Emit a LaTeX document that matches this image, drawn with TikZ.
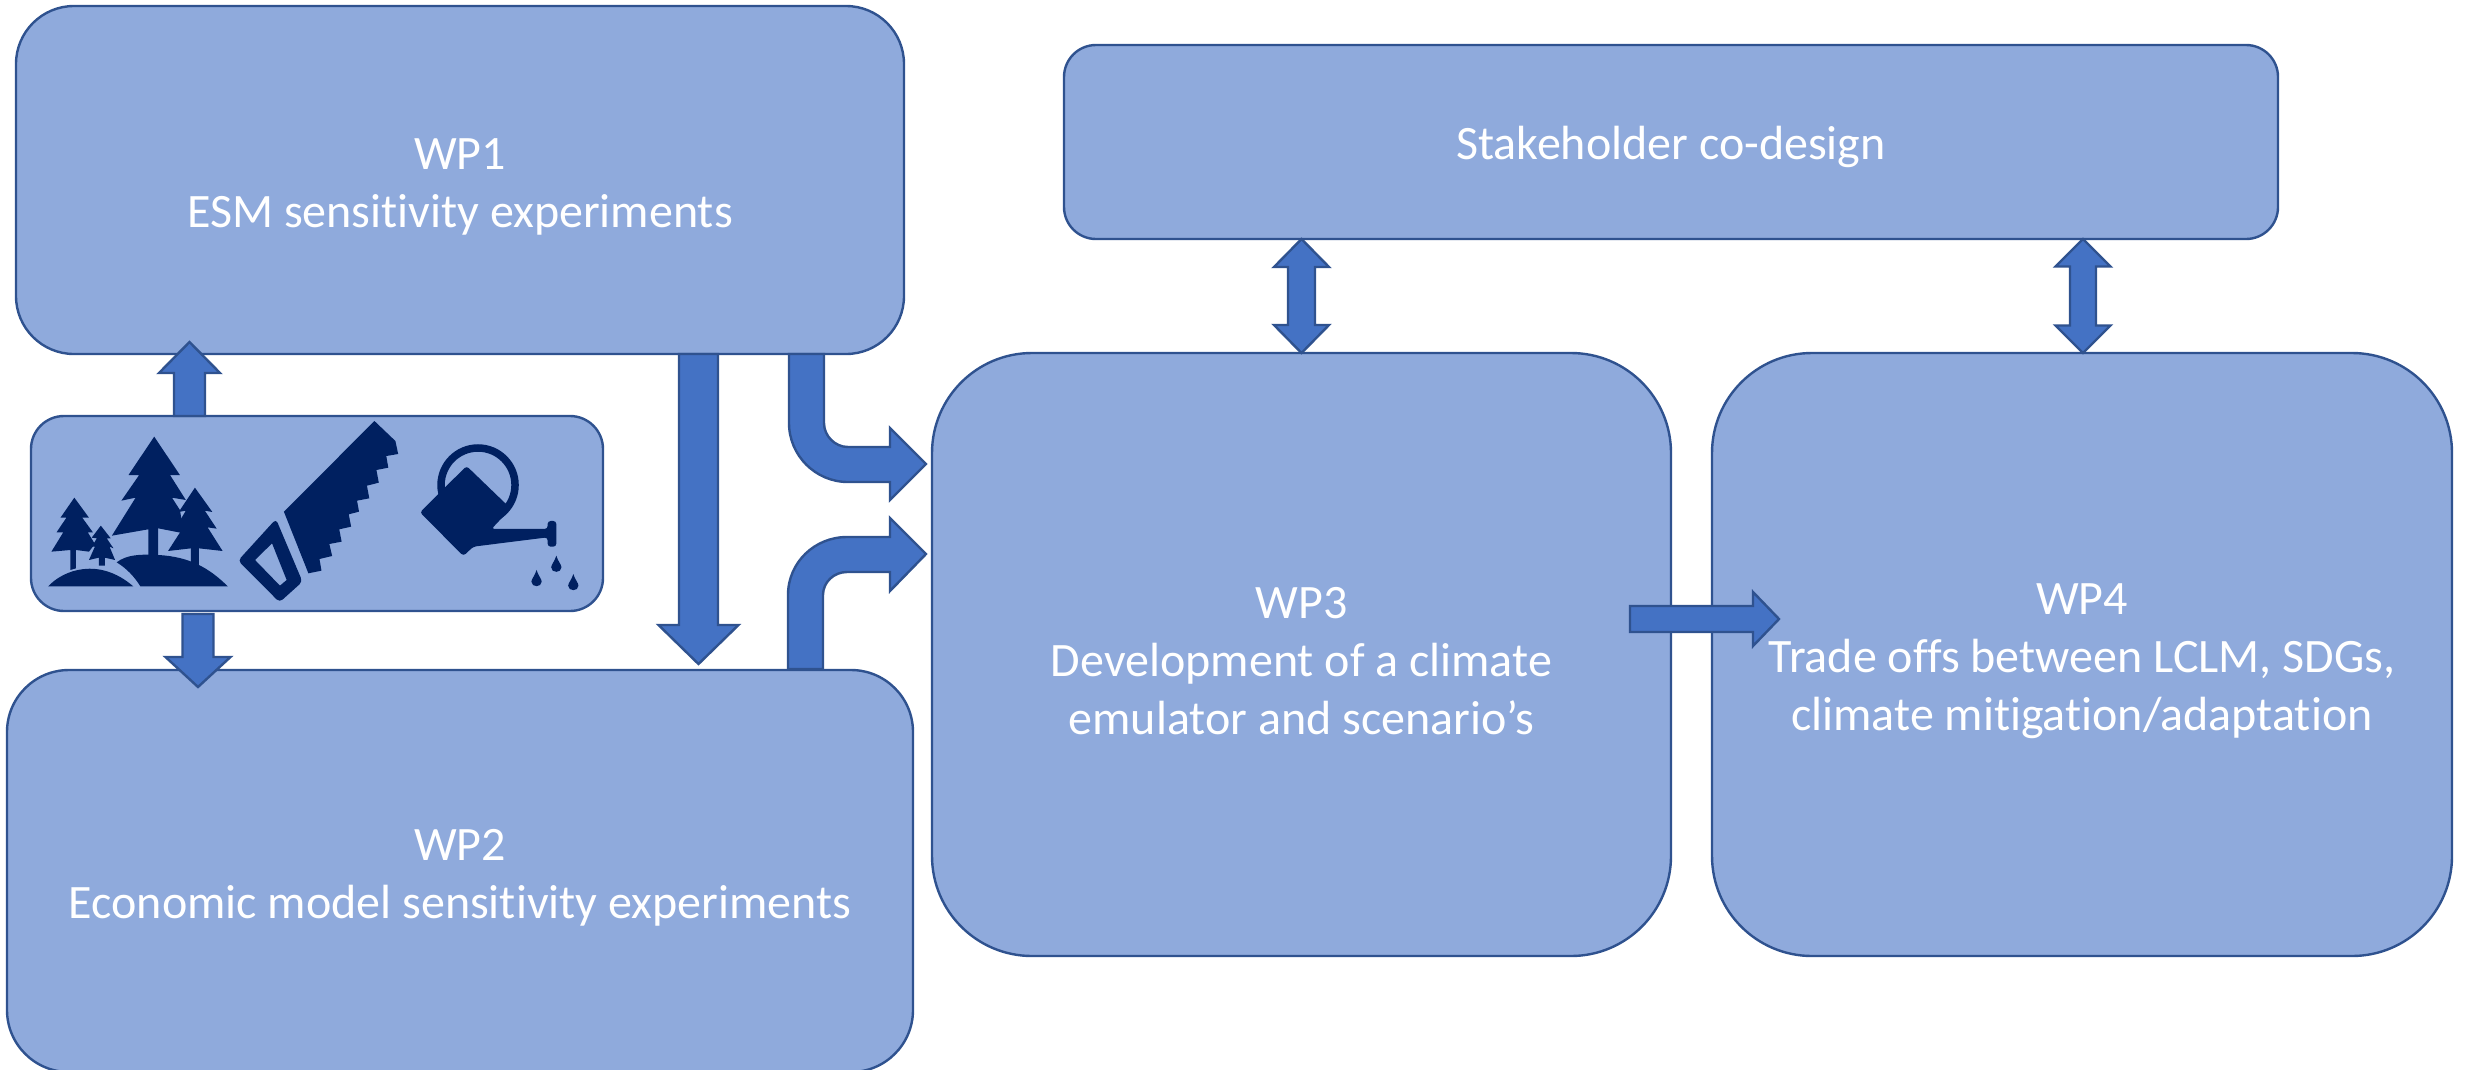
\documentclass[tikz,border=0pt]{standalone}
\usepackage{fontspec}
\setmainfont[Ligatures=NoCommon]{Carlito}
\usetikzlibrary{calc}
\definecolor{boxfill}{HTML}{8FAADC}
\definecolor{edgeblue}{HTML}{2F528F}
\definecolor{arrowfill}{HTML}{4472C4}
\definecolor{icondark}{HTML}{002060}
\newcommand{\firstline}{\rule{0pt}{44pt}}
\tikzset{
  wpbox/.style={draw=edgeblue,fill=boxfill,line width=2.4pt,outer sep=0pt,inner sep=0pt,
    align=center,text=white,font=\fontsize{48}{58}\selectfont},
  blockshape/.style={draw=edgeblue,fill=arrowfill,line width=2.4pt,line join=miter},
  iconshape/.style={fill=icondark,draw=none}
}
\newcommand{\blockarrow}[5]{%
  \coordinate (ba) at ($(#2)!#5!(#1)$);
  \draw[blockshape] ($(#1)!#3!90:(#2)$) -- ($(ba)!#3!90:(#2)$) -- ($(ba)!#4!90:(#2)$) -- (#2)
    -- ($(ba)!#4!-90:(#2)$) -- ($(ba)!#3!-90:(#2)$) -- ($(#1)!#3!-90:(#2)$) -- cycle;
}
\newcommand{\doublearrow}[5]{%
  \coordinate (ba) at ($(#1)!#5!(#2)$);
  \coordinate (bb) at ($(#2)!#5!(#1)$);
  \draw[blockshape] (#1) -- ($(ba)!#4!90:(#2)$) -- ($(ba)!#3!90:(#2)$) -- ($(bb)!#3!90:(#2)$)
    -- ($(bb)!#4!90:(#2)$) -- (#2) -- ($(bb)!#4!-90:(#2)$) -- ($(bb)!#3!-90:(#2)$)
    -- ($(ba)!#3!-90:(#2)$) -- ($(ba)!#4!-90:(#2)$) -- cycle;
}
\newcommand{\waterdrop}[2]{%
  \fill[iconshape] (#1,#2-25) .. controls (#1+4,#2-8) and (#1+13,#2+2) .. (#1+13,#2+10)
    .. controls (#1+13,#2+28) and (#1-13,#2+28) .. (#1-13,#2+10)
    .. controls (#1-13,#2+2) and (#1-4,#2-8) .. (#1,#2-25) -- cycle;
}
\begin{document}
\begin{tikzpicture}[x=1pt,y=-1pt]
\clip (0,0) rectangle (2465,1069);
% boxes
\node[wpbox,rounded corners=58pt,minimum width=888pt,minimum height=348pt] (wp1) at (460,180) {\firstline WP1\\ESM sensitivity experiments};
\node[wpbox,rounded corners=62pt,minimum width=906pt,minimum height=402pt] (wp2) at (460,871) {\firstline WP2\\Economic model sensitivity experiments};
\node[wpbox,rounded corners=33pt,minimum width=572pt,minimum height=195pt] (tools) at (317,513.5) {};
\node[wpbox,rounded corners=32pt,minimum width=1214pt,minimum height=194pt] (stake) at (1671,142) {\firstline Stakeholder co-design};
\node[wpbox,rounded corners=100pt,minimum width=739pt,minimum height=603pt] (wp3) at (1301.5,654.5) {\firstline WP3\\Development of a climate\\emulator and scenario’s};
\node[wpbox,rounded corners=100pt,minimum width=740pt,minimum height=603pt] (wp4) at (2082,654.5) {\firstline WP4\\Trade offs between LCLM, SDGs,\\climate mitigation/adaptation};
% arrow end points
\coordinate (t1a) at ($(tools.north west)+(158.5,0)$);
\coordinate (t1b) at ($(wp1.south west)+(173.5,-12)$);
\coordinate (t2a) at ($(tools.south west)+(167,3)$);
\coordinate (t2b) at ($(wp2.north west)+(191,17)$);
\coordinate (dA) at ($(wp1.south west)+(682.5,0)$);
\coordinate (dB) at ($(wp2.north west)+(691.5,-6)$);
\coordinate (e1b) at ($(wp3.north west)+(369.5,0)$);
\coordinate (s1a) at (stake.south -| e1b);
\coordinate (s2b) at ($(wp4.north)+(1,0)$);
\coordinate (s2a) at (stake.south -| s2b);
\coordinate (hA) at ($(wp3.north east)+(-41,266)$);
\coordinate (hB) at ($(wp4.north west)+(67,266)$);
% straight block arrows
\blockarrow{t1a}{t1b}{15.5pt}{30.5pt}{31pt}
\blockarrow{t2a}{t2b}{15.5pt}{32.5pt}{30pt}
\blockarrow{dA}{dB}{19.5pt}{40pt}{39pt}
\doublearrow{s1a}{e1b}{13.5pt}{27.5pt}{28pt}
\doublearrow{s2a}{s2b}{13pt}{27.5pt}{27.5pt}
\blockarrow{hA}{hB}{13pt}{27pt}{26pt}
% bent block arrows
\coordinate (b1s) at ($(wp1.south west)+(773,0)$);
\draw[blockshape] (b1s) -- ++(0,69) .. controls +(0,32.5) and +(-32.5,0) .. ++(59,59)
  -- ++(42,0) -- ++(0,18) -- ++(36,-36) -- ++(-36,-36) -- ++(0,19) -- ++(-42,0)
  .. controls +(-13,0) and +(0,13) .. ++(-24,-24) -- ++(0,-69) -- cycle;
\coordinate (b2s) at ($(wp2.north west)+(781,-1)$);
\draw[blockshape] (b2s) -- ++(0,-74) .. controls +(0,-32.5) and +(-32.5,0) .. ++(59,-58)
  -- ++(43,0) -- ++(0,-19) -- ++(36,36) -- ++(-36,37) -- ++(0,-19) -- ++(-43,0)
  .. controls +(-13,0) and +(0,-13) .. ++(-24,23) -- ++(0,74) -- cycle;
% icons, in a grid of their own
\begin{scope}[shift={(0,400)},x=0.3954pt,y=-0.3333pt]
  % big tree
  \fill[iconshape] (390,110) -- (455,225) -- (430,225) -- (470,300) -- (435,293) -- (455,330)
    -- (465,400) -- (400,385) -- (400,470) -- (375,470) -- (375,388) -- (283,407) -- (343,293)
    -- (307,302) -- (352,225) -- (325,225) -- cycle;
  % right tree
  \fill[iconshape] (493,263) -- (537,336) -- (518,332) -- (548,386) -- (525,382) -- (563,453)
    -- (503,445) -- (503,495) -- (483,490) -- (483,445) -- (425,453) -- (462,385) -- (445,382)
    -- (470,332) -- (452,336) -- cycle;
  % small tree
  \fill[iconshape] (188,293) -- (225,353) -- (208,353) -- (235,397) -- (222,397) -- (240,432)
    -- (225,455) -- (192,450) -- (192,505) -- (178,510) -- (178,450) -- (130,455) -- (160,397)
    -- (143,397) -- (168,353) -- (153,353) -- cycle;
  % tiny tree
  \fill[iconshape] (255,377) -- (280,415) -- (270,415) -- (287,445) -- (277,440) -- (291,480)
    -- (265,473) -- (265,497) -- (250,497) -- (250,473) -- (225,480) -- (240,440) -- (232,440)
    -- (245,415) -- (232,413) -- cycle;
  % hills
  \fill[iconshape] (122,559) .. controls (160,510) and (250,470) .. (337,559) -- cycle;
  \fill[iconshape] (295,487) .. controls (320,465) and (350,462) .. (400,465)
    .. controls (480,470) and (530,505) .. (576,559) -- (355,559)
    .. controls (340,530) and (320,505) .. (295,487) -- cycle;
  % saw
  \fill[iconshape] (947,63) -- (1000,123) -- (1007,162) -- (977,168) -- (982,203) -- (952,210)
    -- (958,248) -- (928,257) -- (934,295) -- (903,302) -- (908,335) -- (882,343) -- (888,380)
    -- (858,388) -- (864,425) -- (833,432) -- (840,468) -- (808,477) -- (813,512) -- (780,520)
    -- (718,335) -- cycle;
  \fill[iconshape,even odd rule] [rounded corners=4pt] (698,357) -- (765,545) -- (707,607) -- (602,482) -- cycle
    [sharp corners] (688,430) -- (725,540) -- (708,557) -- (645,480) -- cycle;
  % watering can
  \draw[icondark,line width=7.5pt] (1209,255) ellipse [x radius=37pt,y radius=37pt];
  \fill[iconshape] [rounded corners=3pt] (1180,198) -- (1278,310) -- (1292,325) -- (1243,387) -- (1385,387) -- (1385,363) -- (1407,363)
    -- (1407,440) -- (1385,440) -- (1385,412) -- (1197,440) -- (1172,468) -- (1062,337) -- cycle;
  \waterdrop{1357}{535}
  \waterdrop{1407}{492}
  \waterdrop{1450}{547}
\end{scope}
\end{tikzpicture}
\end{document}
